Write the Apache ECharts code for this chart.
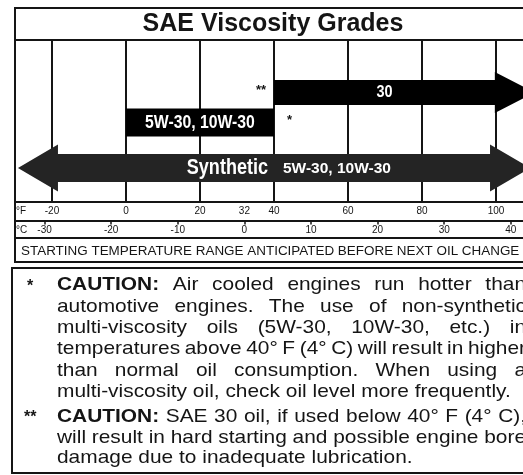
<!DOCTYPE html>
<html>
<head>
<meta charset="utf-8">
<script src="https://cdn.jsdelivr.net/npm/echarts@6/dist/echarts.min.js"></script>
<style>
html, body { margin: 0; padding: 0; background: #fff; }
#main { width: 523px; height: 475px; }
</style>
</head>
<body>
<div id="main"></div>
<script>
// temperature scale (deg F) shown across the box
var fMin = -30, fMax = 107.3;
var gridLines = [-20, 0, 20, 40, 60, 80, 100];
var fTicks = [-20, 0, 20, 32, 40, 60, 80, 100];
var cTicks = [-30, -20, -10, 0, 10, 20, 30, 40];

// oil grades, range in deg F (arrow tips included)
var grades = ['30', '5W-30, 10W-30', 'Synthetic'];
var gradeFrom = [40, 0, -29.2];
var gradeTo = [110.5, 40, 109.2];
var gradeSub = ['', '', '5W-30, 10W-30'];
var gradeNote = ['**', '*', ''];

var caution1 = [
    'CAUTION: Air cooled engines run hotter than',
    'automotive engines. The use of non-synthetic',
    'multi-viscosity oils (5W-30, 10W-30, etc.) in',
    'temperatures above 40\u00b0 F (4\u00b0 C) will result in higher',
    'than normal oil consumption. When using a',
    'multi-viscosity oil, check oil level more frequently.'
];
var caution2 = [
    'CAUTION: SAE 30 oil, if used below 40\u00b0 F (4\u00b0 C),',
    'will result in hard starting and possible engine bore',
    'damage due to inadequate lubrication.'
];

var FAM = '"Liberation Sans", Arial, sans-serif';
var ink = '#151515';

// how each grade row is drawn (pixels); labels squeezed to look condensed
var gradeLayout = [
    { y: 92.5, h: 25, head: 40, headH: 41, left: false, right: true, fill: '#000', font: 'bold 17px ' + FAM, squeeze: 0.85, note: 'left' },
    { y: 122.5, h: 28, head: 0, headH: 0, left: false, right: false, fill: '#000', font: 'bold 19px ' + FAM, squeeze: 0.83, note: 'right' },
    { y: 168, h: 28, head: 40, headH: 47, left: true, right: true, fill: '#242424', font: 'bold 22px ' + FAM, squeeze: 0.82 }
];

function renderGrid(params, api) {
    var x = api.coord([api.value(0), 0])[0];
    var cs = params.coordSys;
    return {
        type: 'line',
        shape: { x1: x, y1: cs.y, x2: x, y2: cs.y + cs.height },
        style: { stroke: ink, lineWidth: 2 }
    };
}

function renderGrade(params, api) {
    var i = api.value(2);
    var L = gradeLayout[i];
    var x0 = api.coord([api.value(0), 0])[0];
    var x1 = api.coord([api.value(1), 0])[0];
    var t = L.y - L.h / 2, b = L.y + L.h / 2;
    var ht = L.y - L.headH / 2, hb = L.y + L.headH / 2;
    var bl = L.left ? x0 + L.head : x0;
    var br = L.right ? x1 - L.head : x1;
    var pts = [];
    if (L.left) pts.push([x0, L.y], [bl, ht], [bl, t]); else pts.push([x0, t]);
    if (L.right) pts.push([br, t], [br, ht], [x1, L.y], [br, hb], [br, b]); else pts.push([x1, t], [x1, b]);
    if (L.left) pts.push([bl, b], [bl, hb]); else pts.push([x0, b]);

    var cx = (bl + br) / 2;
    var kids = [{ type: 'polygon', shape: { points: pts }, style: { fill: L.fill } }];
    if (gradeSub[i]) {
        kids.push({ type: 'text', x: cx - 6, y: L.y, scaleX: L.squeeze, style: { text: grades[i], font: L.font, fill: '#fff', align: 'right', verticalAlign: 'middle' } });
        kids.push({ type: 'text', x: cx + 9, y: L.y + 1, style: { text: gradeSub[i], font: 'bold 15.5px ' + FAM, fill: '#fff', align: 'left', verticalAlign: 'middle' } });
    } else {
        kids.push({ type: 'text', x: cx, y: L.y, scaleX: L.squeeze, style: { text: grades[i], font: L.font, fill: '#fff', align: 'center', verticalAlign: 'middle' } });
    }
    if (gradeNote[i]) {
        var nx = L.note === 'left' ? x0 - 8 : x1 + 13;
        kids.push({ type: 'text', x: nx, y: L.y - 2, style: { text: gradeNote[i], font: 'bold 13px ' + FAM, fill: ink, align: L.note === 'left' ? 'right' : 'left', verticalAlign: 'middle' } });
    }
    return { type: 'group', children: kids };
}

// justified caution paragraphs
var ctx = document.createElement('canvas').getContext('2d');
var sx = 1.1, txtLeft = 57, txtRight = 526;
var normFont = '19px ' + FAM, boldFont = 'bold 19px ' + FAM;
function measure(s, f) { ctx.font = f; return ctx.measureText(s).width; }
function para(lines, y0, step, out) {
    lines.forEach(function (ln, k) {
        var words = ln.split(' ');
        var fonts = words.map(function (w, j) { return (k === 0 && j === 0) ? boldFont : normFont; });
        var ws = words.map(function (w, j) { return measure(w, fonts[j]) * sx; });
        var sum = ws.reduce(function (a, c) { return a + c; }, 0);
        var gap = k === lines.length - 1 ? measure(' ', normFont) * sx : (txtRight - txtLeft - sum) / (words.length - 1);
        var x = txtLeft;
        words.forEach(function (w, j) {
            out.push({ type: 'text', x: x, y: y0 + k * step, scaleX: sx, style: { text: w, font: fonts[j], fill: ink, verticalAlign: 'middle' } });
            x += ws[j] + gap;
        });
    });
}

var graphics = [
    // upper box
    { type: 'rect', shape: { x: 15, y: 8, width: 530, height: 254 }, style: { fill: 'none', stroke: ink, lineWidth: 2 } },
    { type: 'line', shape: { x1: 15, y1: 40, x2: 530, y2: 40 }, style: { stroke: ink, lineWidth: 2 } },
    { type: 'line', shape: { x1: 15, y1: 238, x2: 530, y2: 238 }, style: { stroke: ink, lineWidth: 2 } },
    { type: 'text', x: 273, y: 24, style: { text: 'SAE Viscosity Grades', font: 'bold 25px ' + FAM, fill: ink, align: 'center', verticalAlign: 'middle' } },
    { type: 'text', x: 16, y: 211, style: { text: '\u00b0F', font: '10px ' + FAM, fill: ink, verticalAlign: 'middle' } },
    { type: 'text', x: 16, y: 230, style: { text: '\u00b0C', font: '10px ' + FAM, fill: ink, verticalAlign: 'middle' } },
    { type: 'text', x: 21, y: 252, scaleX: 1.12, style: { text: 'STARTING TEMPERATURE RANGE ANTICIPATED BEFORE NEXT OIL CHANGE', font: '12px ' + FAM, fill: ink, verticalAlign: 'middle' } },
    // caution box
    { type: 'rect', shape: { x: 12, y: 268, width: 530, height: 205 }, style: { fill: 'none', stroke: ink, lineWidth: 2 } },
    { type: 'text', x: 27, y: 287, style: { text: '*', font: 'bold 16px ' + FAM, fill: ink, verticalAlign: 'middle' } },
    { type: 'text', x: 24, y: 418, style: { text: '**', font: 'bold 16px ' + FAM, fill: ink, verticalAlign: 'middle' } }
];
para(caution1, 285, 21.4, graphics);
para(caution2, 417, 20.6, graphics);

var myChart = echarts.init(document.getElementById('main'));
var option = {
    animation: false,
    backgroundColor: '#fff',
    grid: { left: 15, right: 0, top: 40, bottom: 273 },
    xAxis: [{
        type: 'value', min: fMin, max: fMax, position: 'bottom',
        axisLine: { show: true, lineStyle: { color: ink, width: 2 } },
        axisTick: { show: false },
        splitLine: { show: false },
        axisLabel: { customValues: fTicks, fontSize: 10, color: ink, margin: 4, fontFamily: 'Liberation Sans' }
    }, {
        type: 'value', min: (fMin - 32) / 1.8, max: (fMax - 32) / 1.8, position: 'bottom', offset: 18.5,
        axisLine: { show: true, lineStyle: { color: ink, width: 2 } },
        axisTick: { show: true, customValues: cTicks, length: 4, lineStyle: { color: ink, width: 1.5 } },
        splitLine: { show: false },
        axisLabel: { customValues: cTicks, fontSize: 10, color: ink, margin: 5, fontFamily: 'Liberation Sans' }
    }],
    yAxis: { type: 'value', min: 0, max: 1, show: false },
    series: [{
        type: 'custom',
        xAxisIndex: 0,
        renderItem: renderGrid,
        data: gridLines.map(function (v) { return [v]; })
    }, {
        type: 'custom',
        xAxisIndex: 0,
        clip: false,
        renderItem: renderGrade,
        data: grades.map(function (g, i) { return [gradeFrom[i], gradeTo[i], i]; })
    }],
    graphic: graphics
};
myChart.setOption(option);
</script>
</body>
</html>
